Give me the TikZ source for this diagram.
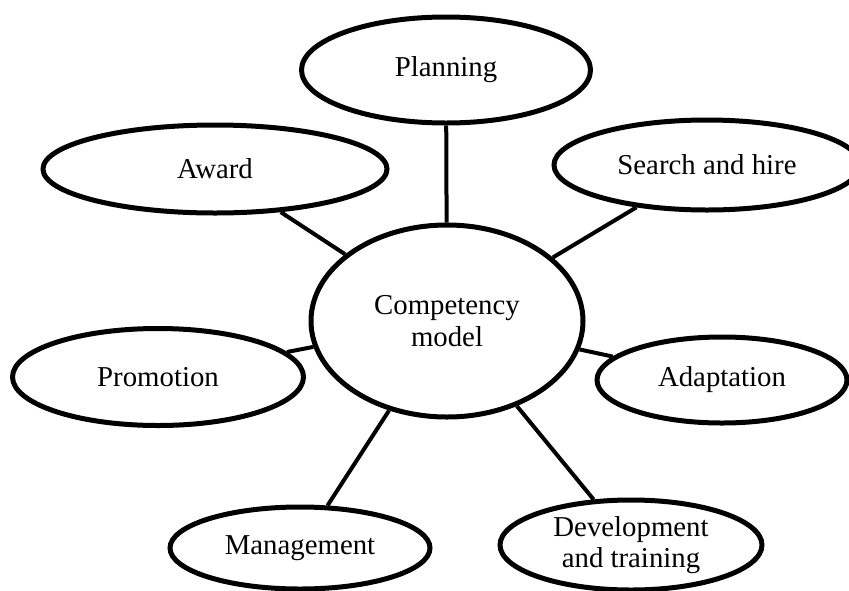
\documentclass[tikz,border=0pt]{standalone}
\usepackage{fontspec}
\setmainfont{Liberation Serif}
\usetikzlibrary{shapes.geometric}
\begin{document}
\begin{tikzpicture}[x=1pt,y=-1pt,
  bub/.style={ellipse, draw, line width=5pt, fill=white, inner sep=0pt, align=center,
    font=\fontsize{28.8}{31.5}\selectfont},
  link/.style={line width=4pt}]
\useasboundingbox (0,0) rectangle (849,590);
\node[bub, minimum width=272pt, minimum height=192pt] (c) at (447,321) {Competency\\model};
\node[bub, minimum width=289pt, minimum height=106pt] (plan) at (446,70) {Planning};
\node[bub, minimum width=344pt, minimum height=88pt] (award) at (215,169) {Award};
\node[bub, minimum width=306pt, minimum height=90pt] (search) at (707,165) {Search and hire};
\node[bub, minimum width=291pt, minimum height=97pt] (promo) at (158,377) {Promotion};
\node[bub, minimum width=250pt, minimum height=86pt] (adapt) at (722,380) {Adaptation};
\node[bub, minimum width=260pt, minimum height=82pt] (mgmt) at (300,548) {Management};
\node[bub, minimum width=262pt, minimum height=90pt] (dev) at (631,545) {Development\\and training};
\foreach \n in {plan,award,search,promo,adapt,mgmt,dev}
  \draw[link] (c) -- (\n);
\end{tikzpicture}
\end{document}
